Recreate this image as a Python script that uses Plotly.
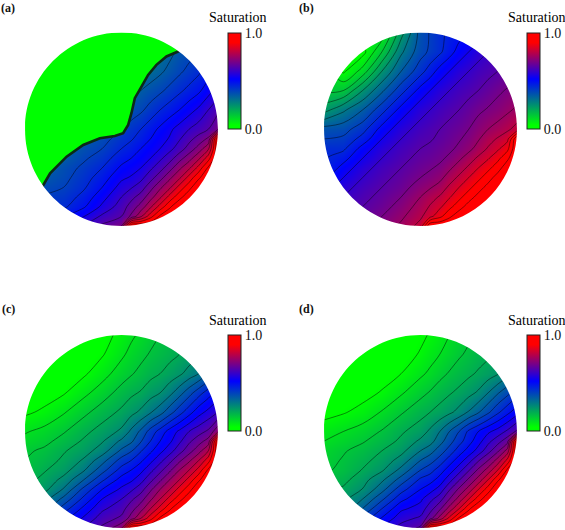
import plotly.graph_objects as go

grid_x = [-1, -.8, -.6, -.4, -.2, 0, .1, .2, .3, .4, .5, .6, .7, .8, .9, 1]
grid_y_top_down = [1, .8, .6, .4, .2, 0, -.1, -.2, -.3, -.4, -.5, -.6, -.7, -.8, -.9, -1]

sat_a = [
 [.25,.25,.25,.25,.25,.25,.25,.25,.25,.25,.265,.28,.30,.32,.34,.36],
 [.25,.25,.25,.25,.25,.25,.26,.27,.29,.31,.335,.36,.38,.40,.43,.46],
 [.25,.25,.25,.25,.25,.27,.285,.30,.32,.34,.365,.39,.415,.44,.475,.51],
 [.25,.25,.25,.25,.27,.31,.33,.35,.37,.39,.415,.44,.465,.49,.53,.57],
 [.25,.25,.25,.275,.315,.35,.37,.39,.42,.45,.475,.50,.53,.56,.60,.64],
 [.25,.25,.285,.32,.36,.40,.425,.45,.48,.51,.54,.57,.60,.625,.65,.70],
 [.25,.27,.305,.345,.38,.425,.445,.47,.50,.53,.555,.595,.635,.67,.71,1],
 [.25,.29,.33,.37,.40,.45,.47,.50,.525,.55,.585,.625,.67,.72,.79,1],
 [.275,.31,.35,.39,.425,.48,.50,.525,.55,.59,.63,.68,.73,.79,.88,1],
 [.30,.335,.375,.41,.45,.51,.53,.55,.59,.63,.68,.74,.79,.87,.96,1],
 [.32,.355,.385,.425,.475,.54,.555,.585,.63,.68,.74,.79,.87,.94,1,1],
 [.34,.38,.40,.44,.50,.57,.595,.625,.68,.74,.79,.87,.93,1,1,1],
 [.365,.405,.42,.465,.53,.60,.635,.67,.73,.79,.87,.93,.99,1,1,1],
 [.39,.43,.44,.49,.56,.625,.67,.72,.79,.87,.94,1,1,1,1,1],
 [.42,.465,.495,.545,.61,.65,.71,.79,.88,.96,1,1,1,1,1,1],
 [.45,.50,.55,.60,.66,.70,1,1,1,1,1,1,1,1,1,1],
]
sat_b = [
 [.15,.15,.10,.065,.23,.37,.405,.44,.46,.48,.50,.52,.55,.58,.60,.62],
 [.15,0,.03,.15,.29,.38,.41,.44,.48,.52,.55,.58,.60,.62,.635,.65],
 [.14,.04,.12,.25,.35,.43,.475,.52,.55,.58,.60,.62,.635,.65,.67,.69],
 [.14,.15,.25,.34,.43,.52,.55,.58,.60,.62,.635,.65,.67,.69,.705,.72],
 [.23,.29,.35,.43,.52,.58,.60,.62,.635,.65,.67,.69,.705,.72,.74,.76],
 [.37,.38,.43,.52,.58,.62,.635,.65,.665,.68,.70,.725,.75,.77,.79,.82],
 [.40,.41,.47,.55,.60,.635,.645,.66,.675,.695,.715,.745,.78,.805,.835,1],
 [.44,.44,.52,.58,.62,.65,.66,.675,.69,.71,.735,.77,.805,.84,.885,1],
 [.445,.48,.55,.60,.635,.665,.675,.69,.71,.74,.775,.81,.845,.885,.94,1],
 [.45,.52,.58,.62,.65,.68,.695,.71,.74,.775,.81,.85,.885,.93,.98,1],
 [.485,.55,.60,.635,.665,.70,.715,.735,.775,.81,.85,.885,.93,.97,1,1],
 [.52,.58,.62,.65,.68,.725,.745,.77,.81,.85,.885,.93,.965,1,1,1],
 [.55,.60,.635,.665,.70,.75,.78,.805,.845,.885,.93,.965,.99,1,1,1],
 [.58,.62,.65,.68,.72,.77,.805,.84,.885,.93,.97,1,1,1,1,1],
 [.60,.64,.67,.70,.74,.79,.835,.885,.94,.98,1,1,1,1,1,1],
 [.62,.66,.69,.72,.76,.82,1,1,1,1,1,1,1,1,1,1],
]
sat_c = [
 [0,0,0,0,.03,.065,.09,.11,.13,.15,.165,.18,.195,.21,.225,.24],
 [0,0,.005,.02,.045,.09,.115,.135,.155,.17,.185,.20,.22,.24,.265,.29],
 [0,.005,.02,.04,.08,.125,.145,.165,.185,.20,.22,.24,.27,.30,.35,.40],
 [.015,.025,.045,.085,.125,.17,.19,.205,.23,.25,.285,.33,.38,.43,.475,.52],
 [.04,.06,.095,.135,.175,.21,.235,.26,.295,.33,.38,.43,.48,.53,.565,.60],
 [.095,.115,.145,.185,.22,.26,.31,.36,.42,.47,.52,.56,.60,.63,.66,.74],
 [.115,.135,.17,.205,.245,.31,.34,.395,.45,.50,.54,.59,.64,.68,.72,1],
 [.14,.16,.195,.225,.275,.36,.395,.445,.49,.535,.58,.63,.68,.73,.80,1],
 [.15,.175,.21,.255,.33,.42,.45,.49,.535,.585,.635,.69,.74,.80,.88,1],
 [.155,.195,.23,.29,.38,.47,.50,.535,.585,.635,.69,.75,.80,.87,.96,1],
 [.18,.215,.265,.345,.44,.52,.54,.58,.635,.69,.75,.80,.87,.94,1,1],
 [.20,.235,.305,.41,.50,.56,.59,.63,.69,.75,.80,.87,.93,1,1,1],
 [.22,.28,.365,.46,.55,.60,.64,.68,.74,.80,.87,.93,.99,1,1,1],
 [.24,.325,.425,.51,.59,.63,.68,.73,.80,.87,.94,1,1,1,1,1],
 [.29,.39,.48,.555,.625,.66,.72,.80,.88,.96,1,1,1,1,1,1],
 [.345,.46,.53,.60,.66,.74,1,1,1,1,1,1,1,1,1,1],
]
sat_d = [
 [0,0,0,0,.007,.038,.055,.075,.10,.12,.14,.157,.17,.185,.195,.205],
 [0,0,0,.01,.025,.055,.08,.10,.12,.143,.16,.177,.19,.207,.22,.24],
 [0,0,.01,.025,.05,.09,.11,.134,.155,.173,.19,.207,.225,.245,.28,.32],
 [.01,.017,.03,.055,.094,.135,.155,.178,.195,.213,.235,.258,.30,.345,.385,.43],
 [.03,.045,.068,.104,.144,.183,.20,.218,.24,.266,.305,.345,.39,.44,.485,.53],
 [.08,.10,.122,.154,.193,.225,.26,.30,.35,.40,.46,.50,.54,.57,.61,.66],
 [.10,.12,.145,.175,.21,.26,.28,.33,.38,.43,.48,.53,.585,.63,.68,1],
 [.12,.145,.168,.20,.235,.30,.33,.375,.42,.475,.52,.57,.63,.69,.77,1],
 [.13,.155,.185,.22,.27,.35,.38,.42,.475,.525,.58,.645,.70,.77,.865,1],
 [.14,.164,.203,.243,.315,.40,.43,.475,.525,.58,.645,.71,.77,.85,.96,1],
 [.165,.185,.23,.29,.37,.46,.48,.52,.58,.645,.71,.77,.85,.94,1,1],
 [.19,.208,.252,.332,.43,.50,.53,.57,.645,.71,.77,.85,.925,1,1,1],
 [.21,.235,.30,.39,.485,.54,.585,.63,.70,.77,.85,.925,.99,1,1,1],
 [.23,.26,.351,.45,.54,.57,.63,.69,.77,.85,.94,1,1,1,1,1],
 [.28,.315,.415,.505,.58,.61,.68,.77,.865,.96,1,1,1,1,1,1],
 [.33,.372,.48,.56,.62,.66,1,1,1,1,1,1,1,1,1,1],
]
front_x = [-1.05,-.88,-.81,-.74,-.569,-.397,-.224,-.069,.017,.069,.103,.138,.207,.276,.362,.466,.586,.68,.72,-1.05]
front_y = [-.85,-.68,-.576,-.455,-.283,-.162,-.093,-.069,-.041,.045,.166,.321,.441,.562,.666,.752,.803,.86,1.05,1.05]

panel_labels = ["(a)", "(b)", "(c)", "(d)"]
panel_fields = [sat_a, sat_b, sat_c, sat_d]
colorbar_title = "Saturation"
tick_values = [0, 1]
tick_labels = ["0.0", "1.0"]

W, H = 565, 530
SERIF = "Liberation Serif"
scale = [[0, "#00ff00"], [.04, "#00ff00"], [.52, "#0000ff"], [.9, "#ff0000"], [1, "#ff0000"]]
boxes = [(25, 218, 32.5, 226), (324, 517, 32.5, 226), (25, 218, 335, 528), (324, 517, 335, 528)]
bars = [(228, 33), (527, 33), (228, 335), (527, 335)]
label_pos = [(8, 8), (306, 8), (8, 309), (306, 309)]
title_pos = [(238, 18), (537, 18), (238, 320), (537, 320)]

k = .5523
circle = (f"M -1 0 C -1 {k} {-k} 1 0 1 C {k} 1 1 {k} 1 0 "
          f"C 1 {-k} {k} -1 0 -1 C {-k} -1 -1 {-k} -1 0 Z")
mask = f"M -1.05 -1.05 L 1.05 -1.05 L 1.05 1.05 L -1.05 1.05 Z {circle}"
PAD = .02

grid_y = grid_y_top_down[::-1]
fig = go.Figure()
layout = dict(width=W, height=H, margin=dict(l=0, r=0, t=0, b=0), paper_bgcolor="white",
              plot_bgcolor="white", showlegend=False, shapes=[], annotations=[])

for i, field in enumerate(panel_fields):
    z = field[::-1]
    xa, ya = f"x{i+1}" if i else "x", f"y{i+1}" if i else "y"
    x0, x1, y0, y1 = boxes[i]
    rx, ry = (x1 - x0) / 2 * PAD, (y1 - y0) / 2 * PAD
    bx, by = bars[i]
    fig.add_trace(go.Heatmap(
        x=grid_x, y=grid_y, z=z, xaxis=xa, yaxis=ya, zmin=0, zmax=1, zsmooth="best",
        colorscale=scale, hoverinfo="skip",
        colorbar=dict(x=bx / W, xanchor="left", y=1 - by / H, yanchor="top",
                      thicknessmode="pixels", thickness=13, lenmode="pixels", len=96,
                      xpad=0, ypad=0, outlinecolor="#222", outlinewidth=1,
                      tickmode="array", tickvals=tick_values, ticktext=tick_labels,
                      ticks="", ticklabelposition="outside",
                      tickfont=dict(family=SERIF, size=14, color="#111"))))
    fig.add_trace(go.Contour(
        x=grid_x, y=grid_y, z=z, xaxis=xa, yaxis=ya, zmin=0, zmax=1, showscale=False,
        autocontour=False, contours=dict(start=.05, end=.96, size=.05, coloring="none"),
        line=dict(color="rgba(0,0,0,.65)", width=.7, smoothing=1), hoverinfo="skip"))
    if i == 0:
        fig.add_trace(go.Scatter(
            x=front_x, y=front_y, xaxis=xa, yaxis=ya, mode="lines", fill="toself",
            fillcolor="#00ff00", line=dict(color="#0c2a16", width=2.6), hoverinfo="skip"))
    ax = dict(range=[-1 - PAD, 1 + PAD], visible=False, fixedrange=True)
    fx0, fx1, fy0, fy1 = (x0 - rx) / W, (x1 + rx) / W, 1 - (y1 + ry) / H, 1 - (y0 - ry) / H
    layout["xaxis" + (str(i + 1) if i else "")] = dict(ax, domain=[fx0, fx1], anchor=ya)
    layout["yaxis" + (str(i + 1) if i else "")] = dict(ax, domain=[fy0, fy1], anchor=xa)
    layout["shapes"].append(dict(type="path", path=mask, xref=xa, yref=ya, fillcolor="white",
                                 line=dict(width=0), layer="above", fillrule="evenodd"))
    layout["shapes"].append(dict(type="rect", xref="paper", yref="paper", x0=fx0, x1=fx1, y0=fy0, y1=fy1,
                                 line=dict(color="white", width=4), fillcolor="rgba(0,0,0,0)", layer="above"))
    lx, ly = label_pos[i]
    layout["annotations"].append(dict(text=f"<b>{panel_labels[i]}</b>", x=lx / W, y=1 - ly / H,
        xref="paper", yref="paper", showarrow=False, xanchor="center", yanchor="middle",
        font=dict(family=SERIF, size=12, color="#111")))
    tx, ty = title_pos[i]
    layout["annotations"].append(dict(text=colorbar_title, x=tx / W, y=1 - ty / H,
        xref="paper", yref="paper", showarrow=False, xanchor="center", yanchor="middle",
        font=dict(family=SERIF, size=14, color="#000")))

fig.update_layout(**layout)
fig.write_html("out.html", post_script="document.body.style.margin='0';",
               config=dict(displayModeBar=False))
